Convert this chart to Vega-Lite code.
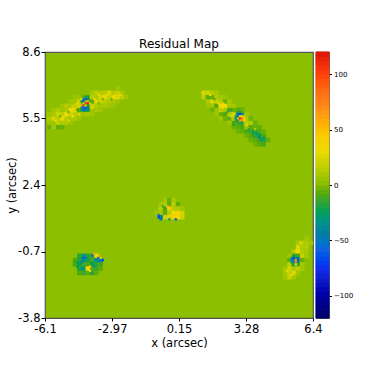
{"$schema":"https://vega.github.io/schema/vega-lite/v6.json","background":"white","padding":{"left":5,"top":37,"right":5,"bottom":5},"spacing":3,"bounds":"flush",
"config":{"font":"DejaVu Sans","view":{"stroke":"#555555","strokeWidth":1.2},"title":{"font":"DejaVu Sans","fontWeight":"normal","fontSize":12,"color":"#000000"},"axis":{"grid":false,"domain":false,"labelFlush":false,"labelOverlap":false,"labelFont":"DejaVu Sans","titleFont":"DejaVu Sans","tickColor":"#000000","labelColor":"#000000","titleColor":"#000000","titleFontWeight":"normal"}},
"hconcat":[
{"width":268,"height":266,"title":{"text":"Residual Map","offset":-5},"view":{"fill":"#8cbf00"},
"layer":[
{"data":{"values":[
{"x":-5.9,"y":5.3,"v":6},{"x":-5.9,"y":5.5,"v":10},{"x":-5.7,"y":5.3,"v":5},{"x":-5.7,"y":5.5,"v":22},{"x":-5.7,"y":5.7,"v":8},{"x":-5.5,"y":5.1,"v":-8},{"x":-5.5,"y":5.3,"v":14},{"x":-5.5,"y":5.5,"v":12},{"x":-5.5,"y":5.7,"v":18},{"x":-5.3,"y":5.3,"v":10},{"x":-5.3,"y":5.5,"v":26},{"x":-5.3,"y":5.7,"v":14},{"x":-5.3,"y":5.9,"v":6},{"x":-5.1,"y":5.5,"v":12},{"x":-5.1,"y":5.7,"v":28},{"x":-5.1,"y":5.9,"v":10},{"x":-4.9,"y":5.5,"v":8},{"x":-4.9,"y":5.7,"v":20},{"x":-4.9,"y":5.9,"v":30},{"x":-4.9,"y":6.1,"v":10},{"x":-4.7,"y":5.7,"v":14},{"x":-4.7,"y":5.9,"v":24},{"x":-4.7,"y":6.1,"v":16},{"x":-4.7,"y":6.3,"v":6},{"x":-4.5,"y":5.7,"v":8},{"x":-4.5,"y":5.9,"v":-8},{"x":-4.5,"y":6.1,"v":22},{"x":-4.5,"y":6.3,"v":18},{"x":-4.5,"y":6.5,"v":5},{"x":-4.3,"y":5.9,"v":-20},{"x":-4.3,"y":6.1,"v":-25},{"x":-4.3,"y":6.3,"v":-20},{"x":-4.3,"y":6.5,"v":-6},{"x":-4.1,"y":5.9,"v":-18},{"x":-4.1,"y":6.1,"v":-10},{"x":-4.1,"y":6.3,"v":-15},{"x":-4.1,"y":6.5,"v":-10},{"x":-3.9,"y":5.9,"v":5},{"x":-3.9,"y":6.1,"v":16},{"x":-3.9,"y":6.3,"v":-8},{"x":-3.9,"y":6.5,"v":12},{"x":-3.9,"y":6.7,"v":8},{"x":-3.7,"y":6.1,"v":12},{"x":-3.7,"y":6.3,"v":24},{"x":-3.7,"y":6.5,"v":10},{"x":-3.7,"y":6.7,"v":14},{"x":-3.5,"y":6.1,"v":8},{"x":-3.5,"y":6.3,"v":18},{"x":-3.5,"y":6.5,"v":22},{"x":-3.5,"y":6.7,"v":10},{"x":-3.3,"y":6.3,"v":14},{"x":-3.3,"y":6.5,"v":26},{"x":-3.3,"y":6.7,"v":12},{"x":-3.1,"y":6.3,"v":10},{"x":-3.1,"y":6.5,"v":16},{"x":-3.1,"y":6.7,"v":24},{"x":-2.9,"y":6.3,"v":8},{"x":-2.9,"y":6.5,"v":28},{"x":-2.9,"y":6.7,"v":10},{"x":-2.7,"y":6.3,"v":6},{"x":-2.7,"y":6.5,"v":24},{"x":-2.7,"y":6.7,"v":16},{"x":-2.5,"y":6.5,"v":14},{"x":-2.5,"y":6.7,"v":8},
{"x":-5.9,"y":5.1,"v":-6},{"x":-5.9,"y":5.7,"v":5},{"x":-5.7,"y":5.1,"v":8},{"x":-5.7,"y":5.9,"v":6},{"x":-5.5,"y":5.9,"v":10},{"x":-5.3,"y":5.1,"v":-6},{"x":-5.3,"y":6.1,"v":5},{"x":-5.1,"y":5.3,"v":10},{"x":-5.1,"y":6.1,"v":12},{"x":-4.9,"y":5.3,"v":6},{"x":-4.9,"y":6.3,"v":6},{"x":-4.7,"y":5.5,"v":9},{"x":-4.7,"y":6.5,"v":5},{"x":-4.5,"y":5.5,"v":5},{"x":-4.3,"y":5.7,"v":6},{"x":-4.1,"y":5.7,"v":8},{"x":-3.9,"y":5.7,"v":6},{"x":-3.7,"y":5.9,"v":9},{"x":-3.5,"y":5.9,"v":5},{"x":-3.3,"y":6.1,"v":8},{"x":-3.1,"y":6.1,"v":7},{"x":-2.9,"y":6.1,"v":5},{"x":-2.7,"y":6.9,"v":5},{"x":-2.3,"y":6.5,"v":6},
{"x":1.3,"y":6.5,"v":14},{"x":1.3,"y":6.7,"v":22},{"x":1.5,"y":6.3,"v":10},{"x":1.5,"y":6.5,"v":-8},{"x":1.5,"y":6.7,"v":18},{"x":1.7,"y":6.1,"v":8},{"x":1.7,"y":6.3,"v":24},{"x":1.7,"y":6.5,"v":-6},{"x":1.7,"y":6.7,"v":12},{"x":1.9,"y":5.9,"v":6},{"x":1.9,"y":6.1,"v":-10},{"x":1.9,"y":6.3,"v":16},{"x":1.9,"y":6.5,"v":10},{"x":2.1,"y":5.7,"v":-6},{"x":2.1,"y":5.9,"v":14},{"x":2.1,"y":6.1,"v":32},{"x":2.1,"y":6.3,"v":12},{"x":2.3,"y":5.7,"v":-10},{"x":2.3,"y":5.9,"v":8},{"x":2.3,"y":6.1,"v":30},{"x":2.3,"y":6.3,"v":-6},{"x":2.5,"y":5.5,"v":-8},{"x":2.5,"y":5.7,"v":12},{"x":2.5,"y":5.9,"v":-12},{"x":2.5,"y":6.1,"v":8},{"x":2.7,"y":5.3,"v":-10},{"x":2.7,"y":5.5,"v":10},{"x":2.7,"y":5.7,"v":20},{"x":2.7,"y":5.9,"v":-5},{"x":2.9,"y":5.1,"v":-8},{"x":2.9,"y":5.3,"v":-12},{"x":2.9,"y":5.5,"v":-30},{"x":2.9,"y":5.7,"v":-20},{"x":3.1,"y":5.1,"v":-10},{"x":3.1,"y":5.3,"v":-15},{"x":3.1,"y":5.5,"v":20},{"x":3.1,"y":5.7,"v":-10},{"x":3.3,"y":4.9,"v":-12},{"x":3.3,"y":5.1,"v":6},{"x":3.3,"y":5.3,"v":14},{"x":3.3,"y":5.5,"v":8},{"x":3.5,"y":4.7,"v":-10},{"x":3.5,"y":4.9,"v":-16},{"x":3.5,"y":5.1,"v":-8},{"x":3.5,"y":5.3,"v":10},{"x":3.7,"y":4.5,"v":-8},{"x":3.7,"y":4.7,"v":-18},{"x":3.7,"y":4.9,"v":-22},{"x":3.7,"y":5.1,"v":-6},{"x":3.9,"y":4.5,"v":-14},{"x":3.9,"y":4.7,"v":-25},{"x":3.9,"y":4.9,"v":-10},{"x":4.1,"y":4.5,"v":-20},{"x":4.1,"y":4.7,"v":-12},
{"x":1.5,"y":6.1,"v":6},{"x":1.7,"y":5.9,"v":-5},{"x":1.9,"y":5.7,"v":5},{"x":1.9,"y":6.7,"v":8},{"x":2.1,"y":5.5,"v":5},{"x":2.1,"y":6.5,"v":6},{"x":2.3,"y":5.5,"v":-6},{"x":2.3,"y":6.5,"v":5},{"x":2.5,"y":5.3,"v":5},{"x":2.5,"y":6.3,"v":8},{"x":2.7,"y":5.1,"v":-6},{"x":2.7,"y":6.1,"v":7},{"x":2.9,"y":4.9,"v":-5},{"x":2.9,"y":5.9,"v":-8},{"x":3.1,"y":4.9,"v":-7},{"x":3.1,"y":5.9,"v":-6},{"x":3.3,"y":4.7,"v":-6},{"x":3.3,"y":5.7,"v":6},{"x":3.5,"y":4.5,"v":-6},{"x":3.5,"y":5.5,"v":-5},{"x":3.7,"y":4.3,"v":-5},{"x":3.7,"y":5.3,"v":-6},{"x":3.9,"y":4.3,"v":-9},{"x":3.9,"y":5.1,"v":-7},{"x":4.1,"y":4.3,"v":-12},{"x":4.1,"y":4.9,"v":-6},{"x":4.3,"y":4.5,"v":-8},
{"x":-0.5,"y":1.7,"v":6},{"x":-0.3,"y":1.7,"v":-6},{"x":-0.1,"y":1.7,"v":8},{"x":-0.7,"y":1.5,"v":5},{"x":-0.5,"y":1.5,"v":10},{"x":-0.3,"y":1.5,"v":-8},{"x":-0.1,"y":1.5,"v":14},{"x":0.1,"y":1.5,"v":-8},{"x":-0.7,"y":1.3,"v":14},{"x":-0.5,"y":1.3,"v":-10},{"x":-0.3,"y":1.3,"v":42},{"x":-0.1,"y":1.3,"v":12},{"x":0.1,"y":1.3,"v":10},{"x":-0.7,"y":1.1,"v":8},{"x":-0.5,"y":1.1,"v":-8},{"x":-0.3,"y":1.1,"v":12},{"x":-0.1,"y":1.1,"v":30},{"x":0.1,"y":1.1,"v":38},{"x":-0.7,"y":0.9,"v":-45},{"x":-0.5,"y":0.9,"v":20},{"x":-0.3,"y":0.9,"v":24},{"x":-0.1,"y":0.9,"v":36},{"x":0.1,"y":0.9,"v":32},{"x":0.3,"y":1.1,"v":20},{"x":0.3,"y":0.9,"v":20},{"x":0.3,"y":1.3,"v":6},{"x":-0.9,"y":1.1,"v":5},
{"x":-4.5,"y":-0.9,"v":-18},{"x":-4.3,"y":-0.9,"v":-30},{"x":-4.1,"y":-0.9,"v":-20},{"x":-3.9,"y":-0.9,"v":-12},{"x":-3.7,"y":-0.9,"v":35},{"x":-4.5,"y":-1.1,"v":-20},{"x":-4.3,"y":-1.1,"v":-40},{"x":-4.1,"y":-1.1,"v":-22},{"x":-3.9,"y":-1.1,"v":-15},{"x":-3.7,"y":-1.1,"v":-40},{"x":-3.5,"y":-1.1,"v":-50},{"x":-4.5,"y":-1.3,"v":-25},{"x":-4.3,"y":-1.3,"v":-15},{"x":-4.1,"y":-1.3,"v":-10},{"x":-3.9,"y":-1.3,"v":-25},{"x":-3.7,"y":-1.3,"v":-18},{"x":-4.5,"y":-1.5,"v":-20},{"x":-4.3,"y":-1.5,"v":-28},{"x":-4.1,"y":-1.5,"v":35},{"x":-3.9,"y":-1.5,"v":-12},{"x":-3.7,"y":-1.5,"v":-15},{"x":-4.3,"y":-1.7,"v":-15},{"x":-4.1,"y":-1.7,"v":-8},{"x":-3.9,"y":-1.7,"v":-18},{"x":-4.7,"y":-1.1,"v":-10},{"x":-4.7,"y":-1.3,"v":-12},{"x":-3.5,"y":-1.3,"v":-14},{"x":-3.5,"y":-1.5,"v":-8},{"x":-4.5,"y":-1.7,"v":-10},{"x":-3.7,"y":-1.7,"v":-8},
{"x":6.1,"y":-0.1,"v":6},{"x":5.7,"y":-0.3,"v":8},{"x":5.9,"y":-0.3,"v":14},{"x":6.1,"y":-0.3,"v":10},{"x":5.7,"y":-0.5,"v":22},{"x":5.9,"y":-0.5,"v":10},{"x":6.1,"y":-0.5,"v":12},{"x":5.5,"y":-0.7,"v":10},{"x":5.7,"y":-0.7,"v":28},{"x":5.9,"y":-0.7,"v":12},{"x":5.5,"y":-0.9,"v":-8},{"x":5.7,"y":-0.9,"v":-10},{"x":5.9,"y":-0.9,"v":16},{"x":5.3,"y":-1.1,"v":-8},{"x":5.5,"y":-1.1,"v":-15},{"x":5.7,"y":-1.1,"v":-15},{"x":5.9,"y":-1.1,"v":-6},{"x":5.3,"y":-1.3,"v":14},{"x":5.5,"y":-1.3,"v":-18},{"x":5.7,"y":-1.3,"v":-12},{"x":5.9,"y":-1.3,"v":8},{"x":5.3,"y":-1.5,"v":22},{"x":5.5,"y":-1.5,"v":10},{"x":5.7,"y":-1.5,"v":14},{"x":5.1,"y":-1.7,"v":8},{"x":5.3,"y":-1.7,"v":16},{"x":5.5,"y":-1.7,"v":24},{"x":5.1,"y":-1.9,"v":6},{"x":5.3,"y":-1.9,"v":18},{"x":5.5,"y":-1.9,"v":8},{"x":5.3,"y":-0.9,"v":6},{"x":5.1,"y":-1.5,"v":8},{"x":5.9,"y":-1.5,"v":6},{"x":5.7,"y":-1.7,"v":6},{"x":6.3,"y":-0.3,"v":6},{"x":6.1,"y":-0.7,"v":8},{"x":6.1,"y":-0.9,"v":7}
]},
"mark":{"type":"square","size":20,"opacity":1,"strokeWidth":0},
"encoding":{
"x":{"field":"x","type":"quantitative","scale":{"domain":[-6.1,6.4],"nice":false,"zero":false},"axis":{"values":[-6.1,-2.97,0.15,3.28,6.4],"labelExpr":"''+datum.value","labelFontSize":11.5,"tickSize":3,"labelPadding":2,"title":"x (arcsec)","titleFontSize":11.5,"titlePadding":3}},
"y":{"field":"y","type":"quantitative","scale":{"domain":[-3.8,8.6],"nice":false,"zero":false},"axis":{"values":[-3.8,-0.7,2.4,5.5,8.6],"labelExpr":"''+datum.value","labelFontSize":11.5,"tickSize":4,"labelPadding":1,"title":"y (arcsec)","titleFontSize":11.5,"titlePadding":0}},
"color":{"field":"v","type":"quantitative","legend":null,"scale":{"domain":[-120,-100,-75,-60,-45,-25,-10,0,15,30,45,60,75,100,120],"range":["#00006e","#0000a8","#1030f0","#1060e0","#007f9c","#00a050","#4fa80c","#8cbf00","#c0d000","#eedc00","#fcc800","#ffa010","#ff7c18","#ff3c0c","#d80808"]}}
}},
{"data":{"values":[
{"x":-5.6,"y":5.4,"v":30},{"x":-5.4,"y":5.6,"v":-5},{"x":-5.2,"y":5.6,"v":34},{"x":-5.0,"y":5.8,"v":-6},{"x":-4.8,"y":5.6,"v":30},{"x":-4.8,"y":6.0,"v":38},{"x":-4.6,"y":5.9,"v":-10},{"x":-4.6,"y":6.2,"v":32},{"x":-3.8,"y":6.4,"v":30},{"x":-3.6,"y":6.2,"v":-4},{"x":-3.6,"y":6.6,"v":28},{"x":-3.4,"y":6.4,"v":-3},{"x":-3.2,"y":6.6,"v":36},{"x":-3.0,"y":6.4,"v":-6},{"x":-2.8,"y":6.6,"v":38},{"x":-2.6,"y":6.6,"v":34},{"x":-3.9,"y":6.0,"v":28},{"x":-5.0,"y":5.4,"v":25},{"x":-4.4,"y":6.4,"v":34},{"x":-4.5,"y":5.7,"v":30},
{"x":1.6,"y":6.6,"v":30},{"x":1.8,"y":6.4,"v":-12},{"x":2.0,"y":6.2,"v":28},{"x":2.2,"y":6.2,"v":44},{"x":2.2,"y":6.0,"v":40},{"x":2.4,"y":5.8,"v":-15},{"x":2.6,"y":5.6,"v":30},{"x":2.6,"y":5.9,"v":-14},{"x":2.7,"y":5.2,"v":-20},{"x":3.3,"y":5.2,"v":26},{"x":3.4,"y":5.0,"v":-20},{"x":3.6,"y":4.8,"v":-25},{"x":3.8,"y":4.8,"v":-35},{"x":3.9,"y":4.6,"v":-40},{"x":4.0,"y":4.5,"v":-35},{"x":4.1,"y":4.6,"v":-28},{"x":3.7,"y":5.0,"v":10},
{"x":-0.4,"y":1.4,"v":50},{"x":-0.2,"y":1.0,"v":44},{"x":0.0,"y":1.0,"v":44},{"x":0.2,"y":1.0,"v":25},{"x":-0.6,"y":1.4,"v":-15},{"x":-4.4,"y":-1.2,"v":-45},{"x":-4.4,"y":-1.5,"v":-38},{"x":-4.0,"y":-1.4,"v":42},{"x":-4.0,"y":-1.6,"v":30},{"x":-3.8,"y":-1.4,"v":-35},{"x":-4.6,"y":-1.2,"v":-30},{"x":-4.6,"y":-1.4,"v":-25},{"x":5.7,"y":-0.5,"v":34},{"x":5.6,"y":-0.7,"v":32},{"x":5.2,"y":-1.6,"v":30},{"x":5.4,"y":-1.8,"v":34},{"x":5.8,"y":-0.3,"v":25},
{"x":-4.2,"y":6.5,"v":-30},{"x":-4.1,"y":6.5,"v":-20},{"x":-4.3,"y":6.4,"v":-50},{"x":-4.2,"y":6.4,"v":-65},{"x":-4.1,"y":6.4,"v":-40},{"x":-4.4,"y":6.3,"v":-25},{"x":-4.3,"y":6.3,"v":-70},{"x":-4.2,"y":6.3,"v":10},{"x":-4.1,"y":6.3,"v":60},{"x":-4.3,"y":6.2,"v":40},{"x":-4.2,"y":6.2,"v":100},{"x":-4.1,"y":6.2,"v":110},{"x":-4.0,"y":6.2,"v":20},{"x":-4.4,"y":6.1,"v":60},{"x":-4.3,"y":6.1,"v":100},{"x":-4.2,"y":6.1,"v":30},{"x":-4.1,"y":6.1,"v":-30},{"x":-4.4,"y":6.0,"v":-40},{"x":-4.3,"y":6.0,"v":-60},{"x":-4.2,"y":6.0,"v":-65},{"x":-4.1,"y":6.0,"v":-50},{"x":-4.4,"y":5.9,"v":-30},{"x":-4.3,"y":5.9,"v":-55},{"x":-4.2,"y":5.9,"v":-50},{"x":-4.1,"y":5.9,"v":-30},
{"x":2.9,"y":5.8,"v":-20},{"x":3.0,"y":5.8,"v":-30},{"x":2.9,"y":5.7,"v":-60},{"x":3.0,"y":5.7,"v":-70},{"x":3.1,"y":5.7,"v":-50},{"x":2.8,"y":5.6,"v":-30},{"x":2.9,"y":5.6,"v":-40},{"x":3.0,"y":5.6,"v":40},{"x":3.1,"y":5.6,"v":30},{"x":3.2,"y":5.6,"v":15},{"x":2.8,"y":5.5,"v":-45},{"x":2.9,"y":5.5,"v":50},{"x":3.0,"y":5.5,"v":110},{"x":3.1,"y":5.5,"v":80},{"x":3.2,"y":5.5,"v":35},{"x":2.8,"y":5.4,"v":-20},{"x":2.9,"y":5.4,"v":-20},{"x":3.0,"y":5.4,"v":60},{"x":3.1,"y":5.4,"v":70},{"x":3.2,"y":5.4,"v":30},{"x":3.0,"y":5.3,"v":-20},{"x":3.1,"y":5.3,"v":-25},{"x":3.2,"y":5.3,"v":5},
{"x":5.5,"y":-0.9,"v":-30},{"x":5.6,"y":-0.9,"v":-20},{"x":5.4,"y":-1.0,"v":-40},{"x":5.5,"y":-1.0,"v":-70},{"x":5.6,"y":-1.0,"v":-30},{"x":5.7,"y":-1.0,"v":-60},{"x":5.4,"y":-1.1,"v":-50},{"x":5.5,"y":-1.1,"v":-60},{"x":5.6,"y":-1.1,"v":60},{"x":5.7,"y":-1.1,"v":-65},{"x":5.4,"y":-1.2,"v":-30},{"x":5.5,"y":-1.2,"v":-40},{"x":5.6,"y":-1.2,"v":80},{"x":5.7,"y":-1.2,"v":-40},{"x":5.5,"y":-1.3,"v":-20},{"x":5.6,"y":-1.3,"v":30},
{"x":-0.8,"y":1.0,"v":-60},{"x":-0.8,"y":0.9,"v":-70},{"x":-0.7,"y":0.8,"v":-55},{"x":0.0,"y":0.8,"v":-65},{"x":-0.3,"y":0.8,"v":-30},
{"x":-3.8,"y":-0.8,"v":60},{"x":-3.9,"y":-0.9,"v":-55},{"x":-3.6,"y":-0.9,"v":50},{"x":-3.6,"y":-1.0,"v":-60},{"x":-3.5,"y":-1.0,"v":45},{"x":-3.4,"y":-1.1,"v":-65},{"x":-4.3,"y":-1.0,"v":-62},{"x":-4.2,"y":-1.0,"v":-50}
]},
"mark":{"type":"square","size":5,"opacity":1,"strokeWidth":0},
"encoding":{"x":{"field":"x","type":"quantitative"},"y":{"field":"y","type":"quantitative"},"color":{"field":"v","type":"quantitative","legend":null}}}
]},
{"width":13,"height":266,
"data":{"values":[{"lo":-120,"hi":-116},{"lo":-116,"hi":-112},{"lo":-112,"hi":-108},{"lo":-108,"hi":-104},{"lo":-104,"hi":-100},{"lo":-100,"hi":-96},{"lo":-96,"hi":-92},{"lo":-92,"hi":-88},{"lo":-88,"hi":-84},{"lo":-84,"hi":-80},{"lo":-80,"hi":-76},{"lo":-76,"hi":-72},{"lo":-72,"hi":-68},{"lo":-68,"hi":-64},{"lo":-64,"hi":-60},{"lo":-60,"hi":-56},{"lo":-56,"hi":-52},{"lo":-52,"hi":-48},{"lo":-48,"hi":-44},{"lo":-44,"hi":-40},{"lo":-40,"hi":-36},{"lo":-36,"hi":-32},{"lo":-32,"hi":-28},{"lo":-28,"hi":-24},{"lo":-24,"hi":-20},{"lo":-20,"hi":-16},{"lo":-16,"hi":-12},{"lo":-12,"hi":-8},{"lo":-8,"hi":-4},{"lo":-4,"hi":0},{"lo":0,"hi":4},{"lo":4,"hi":8},{"lo":8,"hi":12},{"lo":12,"hi":16},{"lo":16,"hi":20},{"lo":20,"hi":24},{"lo":24,"hi":28},{"lo":28,"hi":32},{"lo":32,"hi":36},{"lo":36,"hi":40},{"lo":40,"hi":44},{"lo":44,"hi":48},{"lo":48,"hi":52},{"lo":52,"hi":56},{"lo":56,"hi":60},{"lo":60,"hi":64},{"lo":64,"hi":68},{"lo":68,"hi":72},{"lo":72,"hi":76},{"lo":76,"hi":80},{"lo":80,"hi":84},{"lo":84,"hi":88},{"lo":88,"hi":92},{"lo":92,"hi":96},{"lo":96,"hi":100},{"lo":100,"hi":104},{"lo":104,"hi":108},{"lo":108,"hi":112},{"lo":112,"hi":116},{"lo":116,"hi":120}]},
"mark":{"type":"rect","strokeWidth":1,"opacity":1},
"encoding":{
"y":{"field":"lo","type":"quantitative","scale":{"domain":[-120,120],"nice":false,"zero":false},"axis":{"orient":"right","values":[-100,-50,0,50,100],"labelFontSize":7,"tickSize":2.5,"labelPadding":2,"title":null}},
"y2":{"field":"hi"},
"stroke":{"field":"lo","type":"quantitative","legend":null,"scale":{"domain":[-120,-100,-75,-60,-45,-25,-10,0,15,30,45,60,75,100,120],"range":["#00006e","#0000a8","#1030f0","#1060e0","#007f9c","#00a050","#4fa80c","#8cbf00","#c0d000","#eedc00","#fcc800","#ffa010","#ff7c18","#ff3c0c","#d80808"]}},
"color":{"field":"lo","type":"quantitative","legend":null,"scale":{"domain":[-120,-100,-75,-60,-45,-25,-10,0,15,30,45,60,75,100,120],"range":["#00006e","#0000a8","#1030f0","#1060e0","#007f9c","#00a050","#4fa80c","#8cbf00","#c0d000","#eedc00","#fcc800","#ffa010","#ff7c18","#ff3c0c","#d80808"]}}
}}
],"resolve":{"scale":{"color":"independent","y":"independent"}}}
